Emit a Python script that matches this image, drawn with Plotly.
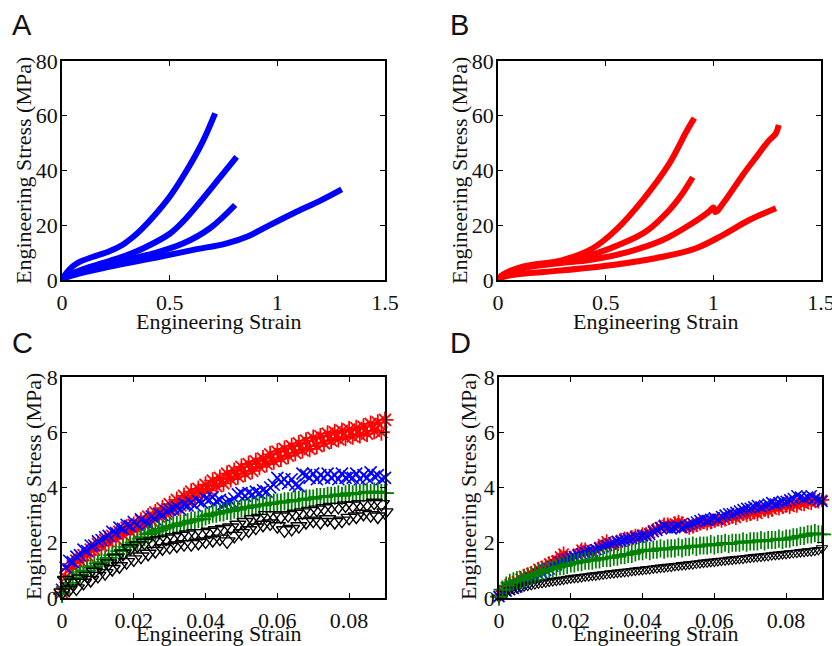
import plotly.graph_objects as go

# ---------------- data ----------------
# Panel A (blue) – four stress/strain curves
a1_strain = [0, 0.02, 0.05, 0.084, 0.145, 0.22, 0.28, 0.331, 0.37, 0.424, 0.5, 0.579, 0.65, 0.711]
a1_stress = [0, 2.5, 5.0, 6.7, 8.5, 10.5, 12.8, 15.8, 18.6, 23.1, 30.4, 40.0, 50.0, 60.9]
a2_strain = [0, 0.03, 0.1, 0.223, 0.3, 0.378, 0.502, 0.57, 0.641, 0.734, 0.811]
a2_stress = [0, 1.8, 4.0, 7.0, 9.0, 11.6, 17.0, 22.0, 28.5, 37.5, 45.0]
a3_strain = [0, 0.03, 0.1, 0.223, 0.33, 0.424, 0.564, 0.687, 0.804]
a3_stress = [0, 1.6, 3.6, 6.1, 7.9, 9.7, 13.4, 18.9, 27.4]
a4_strain = [0, 0.03, 0.084, 0.223, 0.455, 0.61, 0.765, 0.87, 0.951, 1.075, 1.2, 1.299]
a4_stress = [0, 1.2, 2.4, 4.9, 8.5, 11.0, 13.4, 16.2, 19.5, 24.4, 29.0, 33.1]

# Panel B (red)
b1_strain = [0, 0.02, 0.115, 0.30, 0.44, 0.548, 0.672, 0.796, 0.87, 0.89, 0.912]
b1_stress = [0, 1.8, 4.9, 7.3, 11.6, 18.3, 29.2, 42.6, 53.5, 56.3, 59.1]
b2_strain = [0, 0.02, 0.115, 0.30, 0.455, 0.579, 0.687, 0.796, 0.86, 0.904]
b2_stress = [0, 1.7, 4.6, 6.8, 9.7, 13.4, 17.7, 25.6, 32.0, 37.5]
b3_strain = [0, 0.02, 0.115, 0.30, 0.424, 0.61, 0.765, 0.889, 0.98, 1.0, 1.01, 1.05, 1.137, 1.2, 1.26, 1.29, 1.304]
b3_stress = [0, 1.6, 4.3, 6.3, 7.3, 10.4, 14.6, 20.1, 25.0, 26.5, 24.8, 28.5, 38.4, 45.0, 51.1, 53.5, 56.6]
b4_strain = [0, 0.02, 0.1, 0.223, 0.533, 0.765, 0.92, 1.044, 1.167, 1.291]
b4_stress = [0, 1.0, 2.2, 3.0, 5.5, 8.5, 11.6, 16.4, 21.9, 26.2]

# Panels C and D – values read every 0.001 strain from 0 to 0.09
strain_cd = [round(i * 0.001, 3) for i in range(91)]

c_red = [0.20, 0.75, 1.05, 1.15, 1.35, 1.35, 1.55, 1.55, 1.75, 1.75,
         1.95, 1.90, 2.10, 2.05, 2.25, 2.15, 2.40, 2.30, 2.55, 2.40,
         2.65, 2.50, 2.80, 2.65, 2.95, 2.80, 3.10, 2.95, 3.25, 3.05,
         3.40, 3.20, 3.55, 3.35, 3.70, 3.50, 3.85, 3.65, 3.95, 3.80,
         4.10, 3.90, 4.25, 4.05, 4.35, 4.15, 4.50, 4.30, 4.60, 4.40,
         4.75, 4.50, 4.85, 4.60, 4.95, 4.75, 5.05, 4.85, 5.20, 4.95,
         5.30, 5.05, 5.40, 5.15, 5.50, 5.25, 5.60, 5.35, 5.70, 5.40,
         5.80, 5.50, 5.85, 5.60, 5.95, 5.70, 6.00, 5.75, 6.05, 5.80,
         6.10, 5.85, 6.15, 5.90, 6.20, 5.95, 6.30, 6.05, 6.35, 6.00,
         6.45]
c_blue = [0.30, 1.10, 1.35, 1.30, 1.50, 1.55, 1.75, 1.70, 1.90, 1.90,
          2.05, 2.10, 2.20, 2.25, 2.40, 2.35, 2.55, 2.50, 2.65, 2.60,
          2.75, 2.65, 2.85, 2.75, 2.70, 2.95, 2.85, 3.05, 3.00, 3.15,
          3.20, 3.25, 3.30, 3.20, 3.40, 3.35, 3.45, 3.35, 3.50, 3.45,
          3.60, 3.55, 3.65, 3.50, 3.55, 3.40, 3.45, 3.50, 3.60, 3.75,
          3.80, 3.70, 3.80, 3.75, 3.85, 3.80, 3.90, 3.85, 4.00, 4.10,
          4.35, 4.20, 4.30, 4.15, 4.30, 4.10, 4.05, 4.50, 4.45, 4.35,
          4.50, 4.30, 4.45, 4.35, 4.50, 4.35, 4.45, 4.30, 4.50, 4.35,
          4.40, 4.35, 4.50, 4.30, 4.45, 4.35, 4.55, 4.40, 4.45, 4.30,
          4.35]
c_green = [0.15, 0.40, 0.55, 0.70, 0.75, 0.85, 0.95, 1.00, 1.10, 1.15,
           1.25, 1.30, 1.40, 1.45, 1.55, 1.60, 1.70, 1.75, 1.85, 1.90,
           2.00, 2.05, 2.15, 2.20, 2.30, 2.35, 2.40, 2.45, 2.50, 2.55,
           2.60, 2.60, 2.65, 2.70, 2.70, 2.75, 2.80, 2.80, 2.85, 2.85,
           2.95, 3.00, 3.05, 3.05, 3.10, 3.10, 3.15, 3.15, 3.20, 3.20,
           3.25, 3.25, 3.30, 3.30, 3.35, 3.35, 3.35, 3.40, 3.40, 3.45,
           3.45, 3.45, 3.50, 3.50, 3.50, 3.55, 3.55, 3.55, 3.60, 3.60,
           3.60, 3.65, 3.65, 3.65, 3.70, 3.70, 3.70, 3.75, 3.70, 3.75,
           3.80, 3.75, 3.80, 3.80, 3.80, 3.85, 3.80, 3.85, 3.85, 3.80,
           3.80]
c_black = [0.20, 0.65, 0.30, 0.55, 0.35, 0.70, 0.55, 0.80, 0.65, 0.95,
           0.80, 1.10, 0.90, 1.25, 1.05, 1.45, 1.15, 1.60, 1.30, 1.80,
           1.40, 1.90, 1.50, 2.00, 1.60, 2.05, 1.70, 2.10, 1.80, 2.15,
           1.85, 2.20, 1.90, 2.25, 1.95, 2.30, 1.95, 2.35, 2.00, 2.35,
           2.05, 2.40, 2.10, 2.45, 2.15, 2.50, 2.05, 2.55, 2.25, 2.65,
           2.35, 2.75, 2.45, 2.85, 2.55, 2.90, 2.65, 3.00, 2.70, 3.00,
           2.60, 2.95, 2.45, 3.00, 2.50, 3.05, 2.60, 3.10, 2.75, 3.15,
           2.80, 3.20, 2.75, 3.25, 2.85, 3.30, 2.75, 3.30, 2.80, 3.35,
           2.90, 3.35, 2.95, 3.40, 3.05, 3.40, 3.00, 3.45, 2.95, 3.40,
           3.10]

d_red = [0.05, 0.25, 0.40, 0.50, 0.55, 0.60, 0.70, 0.80, 0.85, 0.90,
         0.95, 1.05, 1.10, 1.15, 1.25, 1.30, 1.35, 1.50, 1.60, 1.45,
         1.45, 1.50, 1.60, 1.75, 1.75, 1.65, 1.65, 1.75, 1.85, 1.95,
         2.05, 1.95, 1.90, 2.00, 2.10, 2.15, 2.10, 2.20, 2.25, 2.20,
         2.30, 2.30, 2.35, 2.45, 2.50, 2.55, 2.65, 2.65, 2.60, 2.70,
         2.75, 2.70, 2.60, 2.55, 2.60, 2.65, 2.70, 2.75, 2.70, 2.75,
         2.80, 2.85, 2.80, 2.85, 2.90, 2.95, 2.90, 3.00, 3.05, 3.00,
         3.05, 3.10, 3.05, 3.15, 3.20, 3.15, 3.20, 3.30, 3.25, 3.30,
         3.35, 3.30, 3.40, 3.35, 3.45, 3.40, 3.50, 3.45, 3.55, 3.50,
         3.55]
d_blue = [0.05, 0.15, 0.25, 0.30, 0.35, 0.40, 0.50, 0.55, 0.60, 0.70,
          0.75, 0.85, 0.90, 1.00, 1.05, 1.15, 1.20, 1.30, 1.35, 1.40,
          1.45, 1.50, 1.55, 1.60, 1.65, 1.70, 1.70, 1.75, 1.80, 1.85,
          1.90, 1.95, 2.00, 2.05, 2.05, 2.10, 2.15, 2.15, 2.20, 2.20,
          2.25, 2.25, 2.30, 2.40, 2.45, 2.55, 2.60, 2.55, 2.50, 2.55,
          2.60, 2.55, 2.60, 2.65, 2.70, 2.75, 2.80, 2.85, 2.80, 2.85,
          2.90, 2.85, 2.95, 3.00, 3.05, 3.05, 3.10, 3.15, 3.20, 3.25,
          3.25, 3.30, 3.35, 3.30, 3.35, 3.40, 3.45, 3.40, 3.45, 3.50,
          3.50, 3.55, 3.60, 3.70, 3.65, 3.60, 3.65, 3.70, 3.60, 3.55,
          3.50]
d_green = [0.05, 0.30, 0.45, 0.55, 0.60, 0.65, 0.65, 0.70, 0.75, 0.80,
           0.85, 0.90, 0.95, 1.00, 1.05, 1.05, 1.10, 1.15, 1.15, 1.20,
           1.25, 1.25, 1.30, 1.30, 1.35, 1.35, 1.35, 1.40, 1.40, 1.45,
           1.45, 1.45, 1.50, 1.50, 1.55, 1.55, 1.60, 1.60, 1.65, 1.70,
           1.70, 1.75, 1.70, 1.75, 1.75, 1.80, 1.75, 1.80, 1.80, 1.80,
           1.85, 1.80, 1.85, 1.85, 1.90, 1.85, 1.90, 1.90, 1.90, 1.95,
           1.90, 1.95, 1.95, 2.00, 1.95, 2.00, 2.00, 2.00, 2.05, 2.00,
           2.05, 2.05, 2.05, 2.10, 2.05, 2.10, 2.10, 2.10, 2.15, 2.10,
           2.15, 2.15, 2.20, 2.20, 2.25, 2.25, 2.30, 2.30, 2.35, 2.30,
           2.30]
d_black = [0.02, 0.15, 0.22, 0.28, 0.32, 0.36, 0.39, 0.42, 0.45, 0.48,
           0.50, 0.53, 0.55, 0.57, 0.59, 0.61, 0.63, 0.65, 0.67, 0.69,
           0.71, 0.73, 0.74, 0.76, 0.78, 0.79, 0.81, 0.82, 0.84, 0.86,
           0.87, 0.89, 0.90, 0.92, 0.93, 0.95, 0.96, 0.98, 0.99, 1.01,
           1.02, 1.04, 1.05, 1.07, 1.08, 1.10, 1.11, 1.13, 1.14, 1.16,
           1.17, 1.19, 1.20, 1.22, 1.23, 1.25, 1.26, 1.28, 1.29, 1.31,
           1.32, 1.34, 1.35, 1.36, 1.38, 1.39, 1.41, 1.42, 1.43, 1.45,
           1.46, 1.48, 1.49, 1.50, 1.52, 1.53, 1.55, 1.56, 1.57, 1.59,
           1.60, 1.62, 1.63, 1.64, 1.66, 1.67, 1.69, 1.70, 1.72, 1.74,
           1.80]

ab_xticks = [0, 0.5, 1, 1.5]
ab_xticktext = ["0", "0.5", "1", "1.5"]
ab_yticks = [0, 20, 40, 60, 80]
cd_xticks = [0, 0.02, 0.04, 0.06, 0.08]
cd_xticktext = ["0", "0.02", "0.04", "0.06", "0.08"]
cd_yticks = [0, 2, 4, 6, 8]

X_TITLE = "Engineering Strain"
Y_TITLE = "Engineering Stress (MPa)"

# ---------------- layout helpers ----------------
W, H = 832, 646
SERIF = "Liberation Serif, Times New Roman, serif"
SANS = "Liberation Sans, Arial, sans-serif"

def dx(a, b):
    return [a / W, b / W]

def dy(top, bottom):
    return [1 - bottom / H, 1 - top / H]

fig = go.Figure()

BLUE = "#0000ff"
RED = "#ff0000"
GREEN = "#008000"
BLACK = "#000000"

def curve(x, y, color, xa, ya):
    fig.add_trace(go.Scatter(x=x, y=y, mode="lines", xaxis=xa, yaxis=ya,
                             line=dict(color=color, width=6, shape="spline", smoothing=1.0),
                             cliponaxis=False, showlegend=False, hoverinfo="skip"))

for xs, ys in [(a1_strain, a1_stress), (a2_strain, a2_stress), (a3_strain, a3_stress), (a4_strain, a4_stress)]:
    curve(xs, ys, BLUE, "x", "y")
for xs, ys in [(b1_strain, b1_stress), (b2_strain, b2_stress), (b3_strain, b3_stress), (b4_strain, b4_stress)]:
    curve(xs, ys, RED, "x2", "y2")

def pts(y, color, symbol, size, xa, ya, lw=1.6):
    fig.add_trace(go.Scatter(x=strain_cd, y=y, mode="markers", xaxis=xa, yaxis=ya,
                             marker=dict(symbol=symbol, size=size, color=color,
                                         line=dict(color=color, width=lw)),
                             cliponaxis=False, showlegend=False, hoverinfo="skip"))

pts(c_red, RED, "asterisk-open", 14, "x3", "y3", lw=1.8)
pts(c_blue, BLUE, "x-thin-open", 12, "x3", "y3")
pts(c_green, GREEN, "cross-thin-open", 13, "x3", "y3", lw=1.8)
pts(c_black, BLACK, "triangle-down-open", 14, "x3", "y3", lw=1.4)

pts(d_red, RED, "asterisk-open", 12, "x4", "y4", lw=1.7)
pts(d_blue, BLUE, "x-thin-open", 11, "x4", "y4")
pts(d_black, BLACK, "triangle-down-open", 10, "x4", "y4", lw=1.1)
pts(d_green, GREEN, "cross-thin-open", 13, "x4", "y4", lw=1.7)

axis_common = dict(showline=True, linecolor="black", linewidth=1.8, mirror="ticks",
                   ticks="inside", ticklen=5, tickwidth=1.2, tickcolor="black",
                   showgrid=False, zeroline=False, fixedrange=True, automargin=False,
                   ticklabeloverflow="allow",
                   tickfont=dict(family=SERIF, size=22, color="#111111"))

layout = dict(template="none", width=W, height=H, margin=dict(l=0, r=0, t=0, b=0, pad=0),
              paper_bgcolor="white", plot_bgcolor="white", showlegend=False)

panels = [
    ("", "", (62, 385), (61, 280), [0, 1.5], [0, 80], ab_xticks, ab_xticktext, ab_yticks),
    ("2", "2", (498, 821), (61, 280), [0, 1.5], [0, 80], ab_xticks, ab_xticktext, ab_yticks),
    ("3", "3", (62, 385), (377, 598), [0, 0.09], [0, 8], cd_xticks, cd_xticktext, cd_yticks),
    ("4", "4", (499, 822), (377, 598), [0, 0.09], [0, 8], cd_xticks, cd_xticktext, cd_yticks),
]
for xi, yi, (l, r), (t, b), xr, yr, xt, xtt, yt in panels:
    layout["xaxis" + xi] = dict(axis_common, domain=dx(l, r), range=xr, anchor="y" + yi,
                                tickvals=xt, ticktext=xtt, ticklabelstandoff=2)
    layout["yaxis" + yi] = dict(axis_common, domain=dy(t, b), range=yr, anchor="x" + xi,
                                tickvals=yt, ticktext=[str(v) for v in yt], ticklabelstandoff=-2)

fig.update_layout(**layout)

annotations = []
def ann(text, xpx, ypx, size, family, angle=0, xanchor="center"):
    annotations.append(dict(text=text, x=xpx / W, y=1 - ypx / H, xref="paper", yref="paper",
                            showarrow=False, textangle=angle, xanchor=xanchor, yanchor="middle",
                            font=dict(family=family, size=size, color="#111111")))

# panel letters
ann("A", 10, 25, 29, SANS, xanchor="left")
ann("B", 448, 25, 29, SANS, xanchor="left")
ann("C", 10, 343, 29, SANS, xanchor="left")
ann("D", 448, 343, 29, SANS, xanchor="left")
# axis titles
ann(X_TITLE, 219, 321, 22, SERIF)
ann(X_TITLE, 656, 321, 22, SERIF)
ann(X_TITLE, 219, 633, 22, SERIF)
ann(X_TITLE, 656, 633, 22, SERIF)
ann(Y_TITLE, 24, 171, 22, SERIF, angle=-90)
ann(Y_TITLE, 460, 171, 22, SERIF, angle=-90)
ann(Y_TITLE, 33, 487, 22, SERIF, angle=-90)
ann(Y_TITLE, 468, 487, 22, SERIF, angle=-90)
fig.update_layout(annotations=annotations)

fig.write_html("out.html", config={"displayModeBar": False},
               post_script="document.body.style.margin='0px';document.body.style.overflow='hidden';")
